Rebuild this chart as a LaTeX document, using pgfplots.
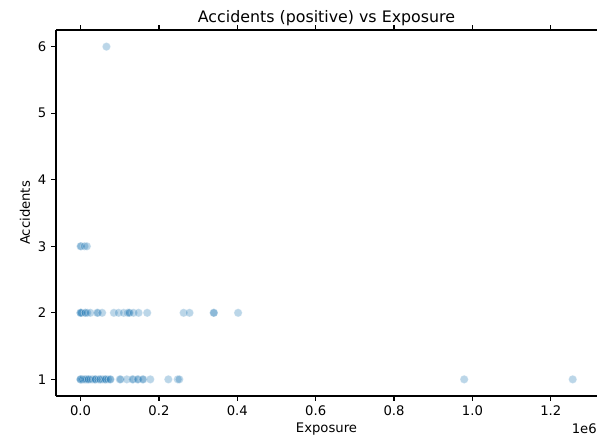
\documentclass[border=0pt]{standalone}
\usepackage{fontspec}
\setmainfont{DejaVu Sans}
\usepackage{pgfplots}
\pgfplotsset{compat=1.18}
\definecolor{mplblue}{HTML}{1F77B4}
\begin{document}
\begin{tikzpicture}
\begin{axis}[
  at={(0,0)}, anchor=south west,
  scale only axis,
  width=389.5pt, height=263.5pt,
  xmin=-62800, xmax=1318000,
  ymin=0.75, ymax=6.25,
  separate axis lines,
  axis x line*=box,
  axis y line*=left,
  axis line style={line width=0.8pt, black},
  tick align=outside,
  tick style={line width=0.8pt, black},
  major tick length=3.5pt,
  xtick={0,200000,400000,600000,800000,1000000,1200000},
  xticklabels={0.0,0.2,0.4,0.6,0.8,1.0,1.2},
  scaled x ticks=false,
  ytick={1,2,3,4,5,6},
  /pgf/number format/assume math mode=true,
  tick label style={font=\fontsize{9.5}{11}\selectfont},
  title={Accidents (positive) vs Exposure},
  title style={font=\fontsize{11.4}{13}\selectfont, at={(axis description cs:0.5,1)}, anchor=base, yshift=-0.8pt},
  xlabel={Exposure},
  ylabel={Accidents},
  label style={font=\fontsize{9.5}{11}\selectfont},
  xlabel style={at={(axis description cs:0.5,0)}, anchor=center, yshift=-23.8pt},
  ylabel style={at={(axis description cs:0,0.5)}, anchor=center, rotate=0, yshift=22.3pt},
  clip=false,
]
\addplot[only marks, mark=*, mark size=3pt,
  mark options={fill=mplblue, draw=white, line width=0.48pt, fill opacity=0.3, draw opacity=0.3}]
  table[row sep=\\] {
  x y\\
  0 1\\ 0 1\\ 0 1\\ 0 1\\ 3000 1\\ 6000 1\\ 10000 1\\ 13000 1\\ 16000 1\\
  20000 1\\ 20000 1\\ 25000 1\\ 30000 1\\ 35000 1\\ 38000 1\\ 38000 1\\
  45000 1\\ 50000 1\\ 50000 1\\ 55000 1\\ 60000 1\\ 64000 1\\ 64000 1\\
  70000 1\\ 76000 1\\ 76000 1\\ 100000 1\\ 102000 1\\ 118000 1\\ 132000 1\\
  134000 1\\ 145000 1\\ 147000 1\\ 158000 1\\ 160000 1\\ 178000 1\\
  224000 1\\ 248000 1\\ 252000 1\\ 979000 1\\ 1256000 1\\
  0 2\\ 0 2\\ 0 2\\ 2000 2\\ 12000 2\\ 12000 2\\ 17000 2\\ 25000 2\\
  42000 2\\ 44000 2\\ 55000 2\\ 85000 2\\ 97000 2\\ 110000 2\\ 120000 2\\
  123000 2\\ 125000 2\\ 135000 2\\ 148000 2\\ 170000 2\\ 263000 2\\
  278000 2\\ 340000 2\\ 340000 2\\ 402000 2\\
  0 3\\ 1000 3\\ 10000 3\\ 16000 3\\
  66000 6\\
  };
\node[anchor=east, font=\fontsize{9.5}{11}\selectfont, inner sep=0pt] at ([yshift=-23.8pt]rel axis cs:1,0) {1e6};
\end{axis}
\pgfresetboundingbox
\path[use as bounding box] (-40.3pt,-32.4pt) rectangle (389.5pt,285.1pt);
\end{tikzpicture}
\end{document}
